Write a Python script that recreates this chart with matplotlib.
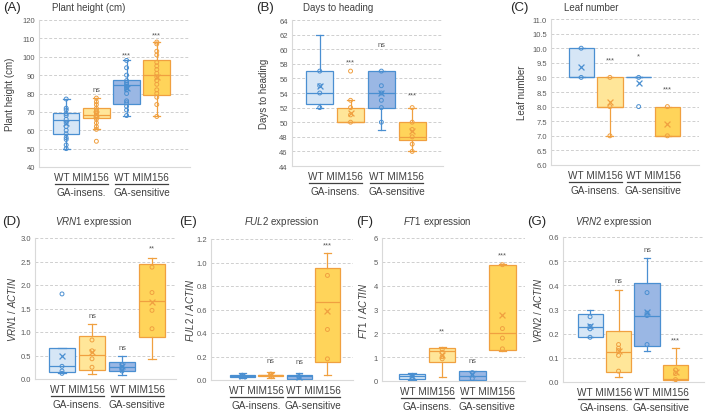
import matplotlib
matplotlib.use("Agg")

import numpy as np
import matplotlib.pyplot as plt
from matplotlib.lines import Line2D

plt.rcParams["font.family"] = ["Liberation Sans", "DejaVu Sans"]
plt.rcParams["mathtext.fontset"] = "custom"
plt.rcParams["mathtext.it"] = "Liberation Sans:italic"
plt.rcParams["mathtext.rm"] = "Liberation Sans"

W, H = 709, 414

PAIR_LABEL = "WT MIM156"
GROUP_LABELS = ["GA-insens.", "GA-sensitive"]

# ── Data ─────────────────────────────────────────────────────────────────────
# order of boxes: WT GA-insens., MIM156 GA-insens., WT GA-sensitive, MIM156 GA-sensitive
A_LO   = [50, 60.5, 68, 67.5]
A_Q1   = [58, 66.5, 74.5, 79]
A_MED  = [65.5, 68.5, 84.5, 90]
A_Q3   = [69.5, 72, 87.5, 98]
A_HI   = [77, 77.5, 98, 108]
A_MEAN = [64, 69, 83, 89]
A_PTS = [
    [77, 72, 71, 69, 68, 66, 64, 62, 60, 58, 56, 55, 52, 50],
    [77.5, 75.5, 74, 72, 71, 70, 69, 68, 67, 66, 64, 62, 60.5, 54],
    [98, 94, 90, 87, 86, 85, 84, 83, 82, 80, 76, 75, 73, 71, 68],
    [108, 107, 103, 101, 97, 95, 93, 91, 89, 87, 85, 82, 80, 78, 74, 67.5],
]
A_SIG   = ["", "ns", "***", "***"]
A_SIG_Y = [0, 82, 101, 112]

B_LO   = [52, 50, 49, 46]
B_Q1   = [52.5, 50, 52, 47.5]
B_MED  = [54, 50, 54, 48]
B_Q3   = [57, 52, 57, 50]
B_HI   = [62, 53, 57, 52]
B_MEAN = [55, 51.2, 54, 48.8]
B_PTS = [
    [57, 55, 54, 52],
    [57, 53, 52, 51, 50],
    [57, 55, 54, 53, 52, 50],
    [52, 50, 49, 48, 47, 46],
]
B_SIG   = ["", "***", "ns", "***"]
B_SIG_Y = [0, 58.3, 60.6, 53.8]

C_LO   = [9, 7, 9, 7]
C_Q1   = [9, 8, 9, 7]
C_MED  = [9, 8, 9, 7]
C_Q3   = [10, 9, 9, 8]
C_HI   = [10, 9, 9, 8]
C_MEAN = [9.35, 8.15, 8.8, 7.4]
C_PTS = [[10, 9], [9, 8, 7], [9, 8], [8, 7]]
C_SIG   = ["", "***", "*", "***"]
C_SIG_Y = [0, 9.6, 9.72, 8.6]

D_LO   = [0.12, 0.10, 0.08, 0.43]
D_Q1   = [0.15, 0.20, 0.16, 0.90]
D_MED  = [0.27, 0.52, 0.25, 1.65]
D_Q3   = [0.67, 0.91, 0.36, 2.44]
D_HI   = [0.67, 1.18, 0.50, 2.57]
D_MEAN = [0.49, 0.58, 0.27, 1.63]
D_PTS = [
    [1.81, 0.27, 0.17, 0.12],
    [0.83, 0.60, 0.43, 0.25],
    [0.30, 0.25, 0.22, 0.17],
    [2.38, 1.84, 1.46, 1.07],
]
D_SIG   = ["", "ns", "ns", "**"]
D_SIG_Y = [0, 1.35, 0.68, 2.78]

E_LO   = [0.02, 0.02, 0.0, 0.04]
E_Q1   = [0.025, 0.03, 0.01, 0.15]
E_MED  = [0.035, 0.04, 0.03, 0.66]
E_Q3   = [0.045, 0.045, 0.04, 0.95]
E_HI   = [0.06, 0.07, 0.06, 1.08]
E_MEAN = [0.035, 0.04, 0.025, 0.59]
E_PTS = [[0.04, 0.03], [0.05, 0.035], [0.03, 0.02], [0.89, 0.43, 0.18]]
E_SIG   = ["", "ns", "ns", "***"]
E_SIG_Y = [0, 0.17, 0.16, 1.15]

F_LO   = [0.05, 0.15, 0.05, 1.25]
F_Q1   = [0.10, 0.80, 0.05, 1.30]
F_MED  = [0.20, 1.25, 0.20, 2.00]
F_Q3   = [0.28, 1.38, 0.42, 4.88]
F_HI   = [0.32, 1.42, 0.42, 4.92]
F_MEAN = [0.20, 1.10, 0.28, 2.75]
F_PTS = [[0.22, 0.15], [1.32, 1.2, 1.02, 0.93], [0.35, 0.10], [4.88, 2.2, 1.8, 1.35]]
F_SIG   = ["", "**", "ns", "***"]
F_SIG_Y = [0, 2.1, 0.88, 5.3]

G_LO   = [0.185, 0.02, 0.13, 0.0]
G_Q1   = [0.185, 0.04, 0.148, 0.01]
G_MED  = [0.228, 0.123, 0.275, 0.013]
G_Q3   = [0.28, 0.21, 0.408, 0.07]
G_HI   = [0.30, 0.38, 0.515, 0.14]
G_MEAN = [0.233, 0.13, 0.29, 0.04]
G_PTS = [
    [0.27, 0.23, 0.22, 0.185],
    [0.155, 0.14, 0.13, 0.11, 0.045],
    [0.37, 0.285, 0.275, 0.155],
    [0.05, 0.035, 0.01],
]
G_SIG   = ["", "ns", "ns", "***"]
G_SIG_Y = [0, 0.42, 0.55, 0.175]

# ── Styling ─────────────────────────────────────────────────────────────────
WT_EDGE  = "#4a8fd1"
MIM_EDGE = "#f0a040"
EDGES = [WT_EDGE, MIM_EDGE, WT_EDGE, MIM_EDGE]
FILLS = ["#d6e6f6", "#ffe699", "#9ab7e4", "#ffd45a"]
TXT   = "#404040"
TICK  = "#595959"

fig = plt.figure(figsize=(W / 100, H / 100), dpi=100)


def px_axes(left, top, right, bottom):
    return fig.add_axes([left / W, 1 - bottom / H, (right - left) / W, (bottom - top) / H])


def draw_panel(box, lo, q1, med, q3, hi, mean, pts, sig, sig_y,
               ylim, ystep, fmt, xlim, letter, letter_x, title, title_x,
               ylabel, ylabel_x, top_y):
    ax = px_axes(*box)
    stats = [dict(whislo=lo[i], q1=q1[i], med=med[i], q3=q3[i], whishi=hi[i],
                  mean=mean[i], fliers=[]) for i in range(4)]
    pos = [1, 2, 3, 4]
    bp = ax.bxp(stats, positions=pos, widths=0.88, patch_artist=True,
                showfliers=False, capwidths=0.24)
    for i in range(4):
        bp["boxes"][i].set_facecolor(FILLS[i])
        bp["boxes"][i].set_edgecolor(EDGES[i])
        bp["boxes"][i].set_linewidth(0.9)
        bp["medians"][i].set_color(EDGES[i])
        bp["medians"][i].set_linewidth(0.9)
        for j in (2 * i, 2 * i + 1):
            bp["whiskers"][j].set_color(EDGES[i])
            bp["whiskers"][j].set_linewidth(0.9)
            bp["caps"][j].set_color(EDGES[i])
            bp["caps"][j].set_linewidth(0.9)
        ax.scatter([pos[i]] * len(pts[i]), pts[i], s=8, facecolor="none",
                   edgecolor=EDGES[i], linewidth=0.7, zorder=4)
        ax.scatter(pos[i], mean[i], marker="x", s=18, color=EDGES[i],
                   linewidth=0.9, zorder=5)
        if sig[i]:
            ax.text(pos[i], sig_y[i], sig[i], ha="center", va="center",
                    fontsize=5.4, color=TICK)

    ax.set_xlim(*xlim)
    ax.set_ylim(*ylim)
    ticks = np.arange(ylim[0], ylim[1] + ystep / 2, ystep)
    ax.set_yticks(ticks)
    ax.set_yticklabels([fmt.format(t) for t in ticks])
    ax.set_xticks([])
    ax.tick_params(axis="y", length=0, labelsize=5.5, labelcolor=TICK, pad=3)
    for t in ticks[1:]:
        ax.axhline(t, color="#cfcfcf", lw=0.7, ls=(0, (3, 2)), zorder=0)
    for s in ("top", "right"):
        ax.spines[s].set_visible(False)
    for s in ("left", "bottom"):
        ax.spines[s].set_color("#d9d9d9")
        ax.spines[s].set_linewidth(0.8)

    # category labels below the axes
    bottom_px = box[3]
    for k, c in enumerate([1.5, 3.5]):
        x_px = ax.transData.transform((c, ylim[0]))[0]
        fig.text(x_px / W, 1 - (bottom_px + 10) / H, PAIR_LABEL, ha="center",
                 va="center", fontsize=7.2, color=TXT)
        fig.add_artist(Line2D([(x_px - 26.5) / W, (x_px + 26.5) / W],
                              [1 - (bottom_px + 16.5) / H] * 2,
                              transform=fig.transFigure, color=TXT, lw=0.9))
        fig.text(x_px / W, 1 - (bottom_px + 25) / H, GROUP_LABELS[k],
                 ha="center", va="center", fontsize=7.2, color=TXT)

    fig.text(letter_x / W, 1 - top_y / H, letter, ha="left", va="center",
             fontsize=9.5, color="#262626")
    fig.text(title_x / W, 1 - top_y / H, title, ha="left", va="center",
             fontsize=7, color=TXT)
    mid = 1 - (box[1] + box[3]) / 2 / H
    fig.text(ylabel_x / W, mid, ylabel, rotation=90, ha="center", va="center",
             fontsize=7, color=TXT)
    return ax


draw_panel((39, 21, 190, 168), A_LO, A_Q1, A_MED, A_Q3, A_HI, A_MEAN, A_PTS,
           A_SIG, A_SIG_Y, (40, 120), 10, "{:.0f}", (0.1, 5.1),
           "(A)", 3, "Plant height (cm)", 52, "Plant height (cm)", 10, 8)
draw_panel((292, 21, 443, 167), B_LO, B_Q1, B_MED, B_Q3, B_HI, B_MEAN, B_PTS,
           B_SIG, B_SIG_Y, (44, 64), 2, "{:.0f}", (0.1, 5.0),
           "(B)", 256, "Days to heading", 303, "Days to heading", 264, 8)
draw_panel((551, 20, 699, 166), C_LO, C_Q1, C_MED, C_Q3, C_HI, C_MEAN, C_PTS,
           C_SIG, C_SIG_Y, (6.0, 11.0), 0.5, "{:.1f}", (-0.05, 5.1),
           "(C)", 510, "Leaf number", 564, "Leaf number", 522, 8)
draw_panel((35, 239, 176, 380), D_LO, D_Q1, D_MED, D_Q3, D_HI, D_MEAN, D_PTS,
           D_SIG, D_SIG_Y, (0.0, 3.0), 0.5, "{:.1f}", (0.1, 4.8),
           "(D)", 2, r"$\it{VRN1}$ expression", 55, r"$\it{VRN1\ /\ ACTIN}$", 12, 222)
draw_panel((211, 240, 353, 381), E_LO, E_Q1, E_MED, E_Q3, E_HI, E_MEAN, E_PTS,
           E_SIG, E_SIG_Y, (0.0, 1.2), 0.2, "{:.1f}", (-0.1, 4.9),
           "(E)", 179, r"$\it{FUL2}$ expression", 244, r"$\it{FUL2\ /\ ACTIN}$", 190, 222)
draw_panel((382, 239, 525, 382), F_LO, F_Q1, F_MED, F_Q3, F_HI, F_MEAN, F_PTS,
           F_SIG, F_SIG_Y, (0, 6), 1, "{:.0f}", (0.0, 4.75),
           "(F)", 356, r"$\it{FT1}$ expression", 403, r"$\it{FT1\ /\ ACTIN}$", 363, 222)
draw_panel((563, 238, 704, 383), G_LO, G_Q1, G_MED, G_Q3, G_HI, G_MEAN, G_PTS,
           G_SIG, G_SIG_Y, (0.0, 0.6), 0.1, "{:.1f}", (0.05, 5.0),
           "(G)", 527, r"$\it{VRN2}$ expression", 575, r"$\it{VRN2\ /\ ACTIN}$", 538, 222)

fig.savefig("out.png", dpi=100)
